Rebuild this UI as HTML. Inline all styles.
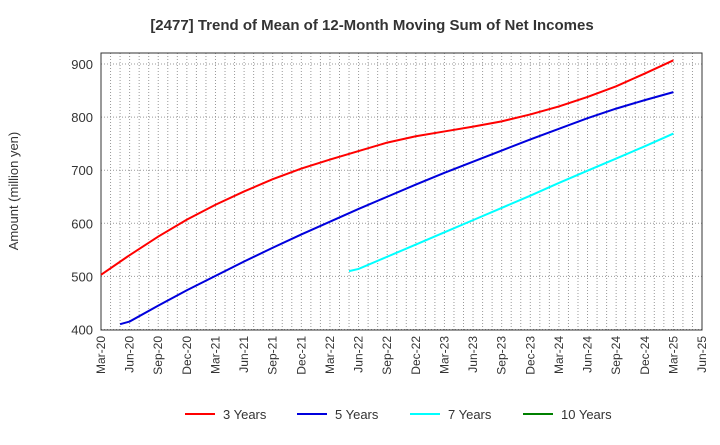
<!DOCTYPE html>
<html><head><meta charset="utf-8"><style>
body{margin:0;background:#fff;font-family:"Liberation Sans",Arial,sans-serif}
svg text{font-family:"Liberation Sans",Arial,sans-serif}
</style></head><body>
<svg id="chart" width="720" height="440" xmlns="http://www.w3.org/2000/svg">
<text x="372" y="30" text-anchor="middle" font-size="15" font-weight="bold" fill="#333">[2477]  Trend of Mean of 12-Month Moving Sum of Net Incomes</text>
<text transform="translate(18,191) rotate(-90)" text-anchor="middle" font-size="13" fill="#333">Amount (million yen)</text>
<g id="grid"></g><g id="axes"></g><g id="series"></g><g id="legend"></g>
</svg>
<script>
const xLabels=["Mar-20","Jun-20","Sep-20","Dec-20","Mar-21","Jun-21","Sep-21","Dec-21","Mar-22","Jun-22","Sep-22","Dec-22","Mar-23","Jun-23","Sep-23","Dec-23","Mar-24","Jun-24","Sep-24","Dec-24","Mar-25","Jun-25"];
const yTicks=[400,500,600,700,800,900];
const months3=[0,3,6,9,12,15,18,21,24,27,30,33,36,39,42,45,48,51,54,57,60];
const values3=[503,540,575,607,635,660,683,703,720,736,752,764,773,782,792,805,820,838,858,882,907];
const months5=[2,3,6,9,12,15,18,21,24,27,30,33,36,39,42,45,48,51,54,57,60];
const values5=[410,415,445,474,501,528,554,579,603,627,650,673,695,716,737,758,778,798,816,832,847];
const months7=[26,27,30,33,36,39,42,45,48,51,54,57,60];
const values7=[510,514,537,560,583,606,629,652,676,699,722,745,769];
const months10=[];
const values10=[];
const L=101,R=702,T=53,B=330;
const x=m=>L+(R-L)*m/63;
const y=v=>329.5-(v-400)*0.531;
const NS="http://www.w3.org/2000/svg";
function mk(t,a,p){const e=document.createElementNS(NS,t);for(const k in a)e.setAttribute(k,a[k]);p.appendChild(e);return e;}
const grid=document.getElementById('grid'),axes=document.getElementById('axes'),ser=document.getElementById('series'),leg=document.getElementById('legend');
for(let m=1;m<63;m++){const l=mk('line',{x1:x(m),x2:x(m),y1:T,y2:B,stroke:'#999','stroke-width':1,'stroke-dasharray':'1,2'},grid);

}
yTicks.forEach(v=>{const l=mk('line',{x1:L,x2:R,y1:y(v),y2:y(v),stroke:'#999','stroke-width':1,'stroke-dasharray':'1,2'},grid);


const t=mk('text',{x:L-8,y:y(v)+5,'text-anchor':'end','font-size':13,fill:'#333'},axes);t.textContent=v;

});
const fr=mk('rect',{x:L,y:T,width:R-L,height:B-T,fill:'none',stroke:'#333','stroke-width':1},axes);


xLabels.forEach((s,i)=>{const xx=x(i*3);const t=mk('text',{transform:`translate(${xx+4},${B+6}) rotate(-90)`,'text-anchor':'end','font-size':12,fill:'#333'},axes);t.textContent=s;

});
function line(ms,vs,c,n){if(!ms.length)return;const p=mk('polyline',{points:ms.map((m,i)=>x(m)+','+y(vs[i])).join(' '),fill:'none',stroke:c,'stroke-width':2},ser);

}
line(months3,values3,'#ff0000','line-3-years');
line(months5,values5,'#0000dd','line-5-years');
line(months7,values7,'#00ffff','line-7-years');
line(months10,values10,'#008000','line-10-years');
[['3 Years','#ff0000',185],['5 Years','#0000dd',297],['7 Years','#00ffff',410],['10 Years','#008000',523]].forEach(([s,c,lx])=>{
const g=mk('g',{},leg);


mk('line',{x1:lx,x2:lx+30,y1:414,y2:414,stroke:c,'stroke-width':2},g);
const t=mk('text',{x:lx+38,y:419,'font-size':13,fill:'#333'},g);t.textContent=s;});
</script>
</body></html>
